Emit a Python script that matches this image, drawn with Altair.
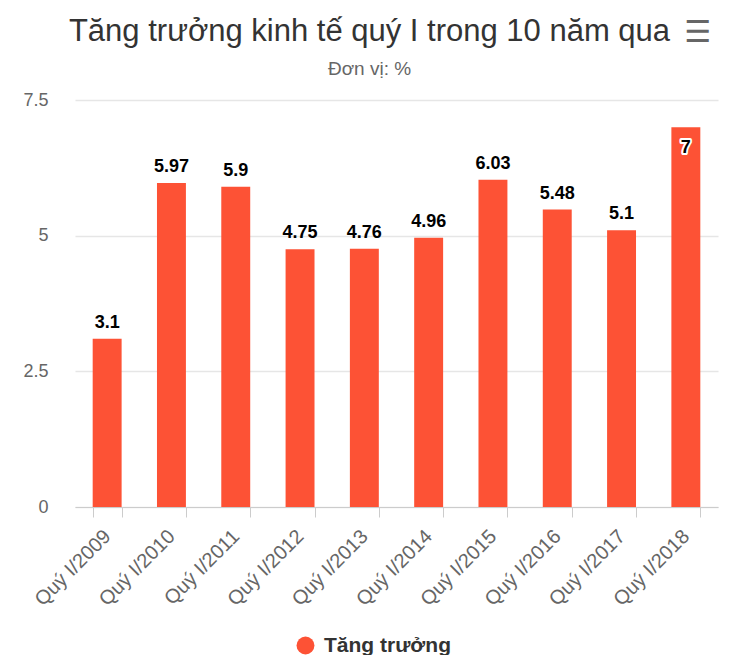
import altair as alt
import pandas as pd

# data
quarters = ["Quý I/2009", "Quý I/2010", "Quý I/2011", "Quý I/2012", "Quý I/2013",
            "Quý I/2014", "Quý I/2015", "Quý I/2016", "Quý I/2017", "Quý I/2018"]
growth = [3.1, 5.97, 5.9, 4.75, 4.76, 4.96, 6.03, 5.48, 5.1, 7.0]
labels = ["3.1", "5.97", "5.9", "4.75", "4.76", "4.96", "6.03", "5.48", "5.1", "7"]
series_name = "Tăng trưởng"

df = pd.DataFrame({"quy": quarters, "value": growth, "label": labels})
df["series"] = series_name
df["inside"] = df["value"] >= 6.5

FONT = "Liberation Sans"
BAR = "#fd5235"

x_enc = alt.X("quy:N", sort=quarters, title=None,
              scale=alt.Scale(paddingInner=0.55, paddingOuter=0.275),
              axis=alt.Axis(labelAngle=-45, labelAlign="right", labelBaseline="middle",
                            labelFontSize=20, labelColor="#666", labelFont=FONT,
                            labelPadding=16, tickBand="extent", tickSize=10,
                            tickColor="#ccc", domainColor="#ccc"))
y_enc = alt.Y("value:Q", title=None,
              scale=alt.Scale(domain=[0, 7.5], nice=False),
              axis=alt.Axis(values=[0, 2.5, 5, 7.5], format="~g", labelFontSize=18,
                            labelColor="#666", labelFont=FONT, labelPadding=27,
                            domain=False, ticks=False,
                            gridColor="#e6e6e6", gridWidth=1.5))

base = alt.Chart(df)

bars = base.mark_bar(color=BAR).encode(
    x=x_enc, y=y_enc,
    color=alt.Color("series:N", scale=alt.Scale(range=[BAR]),
                    legend=alt.Legend(title=None, orient="none", legendX=220, legendY=535,
                                      symbolType="circle", symbolSize=320,
                                      symbolStrokeWidth=0, labelFontSize=21,
                                      labelFont=FONT, labelFontWeight="bold",
                                      labelColor="#333", labelOffset=8))
)

above = base.transform_filter("!datum.inside")
inside = base.transform_filter("datum.inside")

txt_style = dict(font=FONT, fontSize=18, fontWeight="bold")
label_out = above.mark_text(baseline="alphabetic", dy=-11, color="black", **txt_style).encode(
    x=alt.X("quy:N", sort=quarters), y="value:Q", text="label:N")
halo_in = inside.mark_text(baseline="top", dy=12, color="white", stroke="white",
                           strokeWidth=4, strokeJoin="round", **txt_style).encode(
    x=alt.X("quy:N", sort=quarters), y="value:Q", text="label:N")
label_in = inside.mark_text(baseline="top", dy=12, color="black", **txt_style).encode(
    x=alt.X("quy:N", sort=quarters), y="value:Q", text="label:N")

# hamburger menu icon in the top right corner
menu = alt.Chart(pd.DataFrame({"icon": ["☰"]})).mark_text(
    font="DejaVu Sans", fontSize=30, fontWeight="bold", color="#666",
    align="center", baseline="middle"
).encode(x=alt.value(623), y=alt.value(-67), text="icon:N")

chart = alt.layer(bars, label_out, halo_in, label_in, menu).properties(
    width=643, height=407,
    autosize=alt.AutoSizeParams(type="none"),
    padding={"left": 67, "top": 92, "right": 4, "bottom": 148},
    title=alt.TitleParams(
        text="Tăng trưởng kinh tế quý I trong 10 năm qua",
        subtitle="Đơn vị: %",
        font=FONT, fontSize=31, fontWeight="normal", color="#333",
        subtitleFont=FONT, subtitleFontSize=19, subtitleColor="#666",
        subtitlePadding=12, anchor="middle", dx=-27, offset=-62
    )
).configure_view(stroke=None)

chart.save("out.html", embed_options={"renderer": "svg", "actions": False})
